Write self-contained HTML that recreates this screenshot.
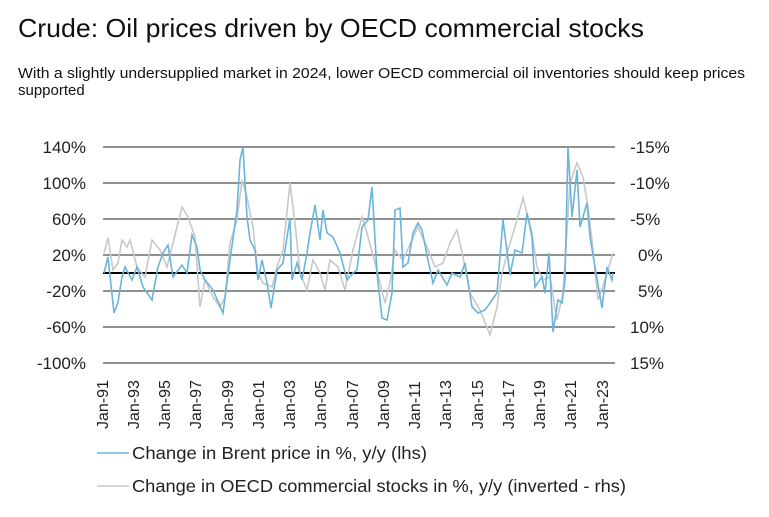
<!DOCTYPE html>
<html><head><meta charset="utf-8"><style>
body{margin:0;background:#fff;width:769px;height:512px;overflow:hidden;font-family:"Liberation Sans",sans-serif}
</style></head><body>
<svg width="769" height="512" xmlns="http://www.w3.org/2000/svg" font-family="Liberation Sans, sans-serif">
<text x="18" y="37" font-size="26" fill="#111" textLength="626" lengthAdjust="spacingAndGlyphs">Crude: Oil prices driven by OECD commercial stocks</text>
<text x="18" y="78" font-size="15" fill="#111" textLength="727" lengthAdjust="spacingAndGlyphs">With a slightly undersupplied market in 2024, lower OECD commercial oil inventories should keep prices</text>
<text x="18" y="95" font-size="15" fill="#111">supported</text>
<g stroke="#222" stroke-width="1">
<line x1="103" x2="615" y1="147" y2="147"/><line x1="103" x2="615" y1="183" y2="183"/>
<line x1="103" x2="615" y1="219" y2="219"/><line x1="103" x2="615" y1="255" y2="255"/>
<line x1="103" x2="615" y1="291" y2="291"/><line x1="103" x2="615" y1="327" y2="327"/>
<line x1="103" x2="615" y1="363" y2="363"/>
</g>
<line x1="103" x2="615" y1="273" y2="273" stroke="#000" stroke-width="2"/>
<g font-size="17" fill="#222" text-anchor="end">
<text x="86" y="153">140%</text><text x="86" y="189">100%</text><text x="86" y="225">60%</text>
<text x="86" y="261">20%</text><text x="86" y="297">-20%</text><text x="86" y="333">-60%</text><text x="86" y="369">-100%</text>
</g>
<g font-size="17" fill="#222">
<text x="630" y="153">-15%</text><text x="630" y="189">-10%</text><text x="630" y="225">-5%</text>
<text x="638" y="261">0%</text><text x="638" y="297">5%</text><text x="630" y="333">10%</text><text x="630" y="369">15%</text>
</g>
<polyline fill="none" stroke="#c8c8c8" stroke-width="1.6" points="104,253 108,238 113,270 118,263 122,240 127,247 130,240 137,267 145,277 152,240 160,250 167,267 173,243 182,207 188,217 195,237 200,307 205,280 213,297 220,307 225,297 230,243 237,220 242,180 247,197 253,227 258,273 263,283 272,287 277,267 283,250 290,183 295,223 300,273 307,290 313,260 320,273 325,290 330,260 338,267 345,290 353,250 362,217 367,233 375,263 380,283 385,303 390,283 395,250 403,260 412,240 418,227 427,247 435,267 443,263 450,243 457,230 463,257 470,293 480,310 490,335 497,307 502,273 508,250 517,220 523,198 532,233 537,267 543,280 550,277 557,320 563,293 570,183 577,163 583,177 588,207 592,240 598,300 605,280 613,253"/>
<polyline fill="none" stroke="#6bb4dc" stroke-width="1.6" points="104,273 108,257 114,313 118,302 122,277 125,267 132,280 137,267 143,287 152,300 158,267 163,253 168,245 173,277 182,265 187,273 192,235 197,247 200,270 205,280 213,290 223,313 230,260 237,210 240,160 243,147 247,217 250,240 255,250 258,280 262,260 267,283 271,308 277,270 283,263 290,218 292,280 297,263 302,280 307,253 310,233 315,205 320,240 323,210 327,233 333,237 340,253 347,280 353,273 357,270 362,227 368,220 372,187 377,273 382,318 387,320 392,293 395,210 400,208 403,267 408,263 413,233 418,223 422,230 428,260 433,283 438,270 447,285 452,273 460,277 465,263 472,307 478,313 485,310 490,303 497,293 503,220 510,275 515,250 522,253 527,213 532,237 535,287 542,277 545,293 549,253 553,332 558,300 562,303 565,280 568,147 572,217 577,170 580,227 587,203 590,237 595,267 602,308 607,267 612,280 613,273"/>
<g font-size="16" fill="#222">
<text transform="translate(108,429) rotate(-90)">Jan-91</text>
<text transform="translate(139,429) rotate(-90)">Jan-93</text>
<text transform="translate(170,429) rotate(-90)">Jan-95</text>
<text transform="translate(201,429) rotate(-90)">Jan-97</text>
<text transform="translate(233,429) rotate(-90)">Jan-99</text>
<text transform="translate(264,429) rotate(-90)">Jan-01</text>
<text transform="translate(295,429) rotate(-90)">Jan-03</text>
<text transform="translate(326,429) rotate(-90)">Jan-05</text>
<text transform="translate(358,429) rotate(-90)">Jan-07</text>
<text transform="translate(389,429) rotate(-90)">Jan-09</text>
<text transform="translate(420,429) rotate(-90)">Jan-11</text>
<text transform="translate(451,429) rotate(-90)">Jan-13</text>
<text transform="translate(483,429) rotate(-90)">Jan-15</text>
<text transform="translate(514,429) rotate(-90)">Jan-17</text>
<text transform="translate(545,429) rotate(-90)">Jan-19</text>
<text transform="translate(576,429) rotate(-90)">Jan-21</text>
<text transform="translate(608,429) rotate(-90)">Jan-23</text>
</g>
<line x1="97" x2="129" y1="453" y2="453" stroke="#6bb4dc" stroke-width="1.5"/>
<text x="132" y="459" font-size="17.5" fill="#222" textLength="295" lengthAdjust="spacingAndGlyphs">Change in Brent price in %, y/y (lhs)</text>
<line x1="97" x2="129" y1="486" y2="486" stroke="#c8c8c8" stroke-width="1.5"/>
<text x="132" y="492" font-size="17.5" fill="#222" textLength="494" lengthAdjust="spacingAndGlyphs">Change in OECD commercial stocks in %, y/y (inverted - rhs)</text>
</svg>
</body></html>
